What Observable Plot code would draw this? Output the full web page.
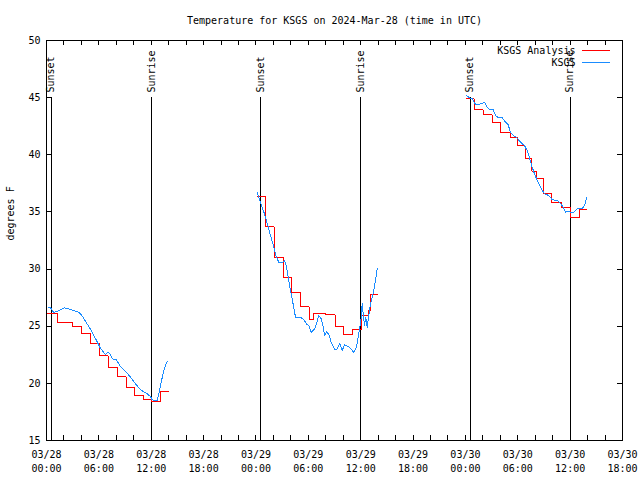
<!DOCTYPE html>
<html><head><meta charset="utf-8">
<script src="https://cdn.jsdelivr.net/npm/d3@7"></script>
<script src="https://cdn.jsdelivr.net/npm/@observablehq/plot@0.6"></script>
<style>html,body{margin:0;padding:0;background:#fff}svg{display:block}</style>
</head><body><div id="chart"></div>
<script>
const title = "Temperature for KSGS on 2024-Mar-28 (time in UTC)";
const yLabel = "degrees F";
const seriesNames = ["KSGS Analysis", "KSGS"];
const seriesColors = ["#ff0000", "#1a8cff"];
const startTime = "2024-03-28T00:00Z";
const endHour = 66;

// hours since 2024-03-28 00:00 UTC
const analysisHours = [0.15,1.23,3.0,4.03,5.04,6.02,7.05,8.08,9.11,10.08,11.06,12.03,13.06,13.98,
  24.21,25.09,26.07,27.1,28.07,29.16,30.08,30.65,31.97,33.06,34.03,35.06,36.04,36.9,37.18,37.9,
  48.13,48.99,50.02,51.05,52.02,53.17,53.97,54.83,55.63,56.2,56.95,57.87,59.01,60.04,61.08,61.88];
const analysisTemps = [26.1,25.35,24.97,24.33,23.48,22.4,21.4,20.6,19.66,18.94,18.56,18.41,19.3,19.3,
  36.35,33.72,31.04,29.23,27.97,26.72,25.56,26.14,26.0,24.97,24.27,24.68,25.94,26.4,27.77,27.77,
  44.89,43.93,43.52,42.8,41.97,41.48,40.8,39.64,38.56,37.95,36.58,35.85,35.41,34.54,35.18,35.18];

const obsHours = [0.15,0.46,0.84,1.41,2.06,2.56,3.13,3.7,4.09,4.66,5.24,5.73,6.11,6.38,6.76,7.02,7.22,7.53,8.02,8.4,9.05,9.63,10.2,10.77,11.54,11.92,12.11,12.49,12.68,12.87,13.14,13.44,13.75,13.94,
  24.14,24.33,24.52,24.72,24.98,25.21,25.47,25.75,26.05,26.32,26.62,27.01,27.27,27.5,27.76,27.96,28.22,28.53,29.03,29.48,29.79,30.06,30.33,30.71,30.94,31.2,31.48,31.71,31.86,32.08,32.35,32.62,33.0,33.31,33.61,33.88,34.15,34.52,34.91,35.21,35.52,35.72,35.9,36.06,36.17,36.44,36.59,36.75,36.93,37.13,37.32,37.5,37.7,37.89,
  48.13,48.39,48.78,49.16,49.54,49.93,50.19,50.5,50.8,51.19,51.45,51.83,52.22,52.6,52.86,53.17,53.48,53.86,54.31,54.77,55.08,55.38,55.65,55.92,56.23,56.53,56.8,57.1,57.56,57.95,58.52,58.9,59.21,59.47,59.73,60.04,60.42,60.81,61.38,61.65,61.88];
const obsTemps = [26.6,26.6,26.2,26.37,26.6,26.5,26.37,26.23,25.9,25.2,24.47,23.75,23.16,22.87,22.5,22.7,22.64,22.15,22.06,21.56,21.06,20.54,19.96,19.43,19.08,18.85,18.56,18.5,18.5,19.08,20.1,21.12,21.85,21.94,
  36.72,36.29,35.85,35.35,34.83,34.2,33.5,32.7,31.9,31.1,30.6,30.55,30.75,30.2,29.0,28.1,27.1,25.8,25.8,25.6,25.2,25.06,24.47,24.77,25.2,25.94,25.65,24.92,24.19,24.5,24.27,23.6,23.0,23.0,23.5,22.87,23.37,23.25,23.0,22.7,23.16,24.04,24.9,25.79,26.96,25.06,25.79,24.9,25.94,26.96,27.54,28.12,29.0,30.02,
  45.18,45.03,44.89,44.4,44.4,44.5,44.6,44.16,43.93,43.93,43.43,43.23,43.23,42.85,42.7,41.97,41.68,41.53,41.1,40.8,40.37,39.64,38.92,38.33,37.75,37.3,36.87,36.58,36.43,36.06,36.0,35.76,35.41,34.97,35.06,34.97,34.97,35.27,35.27,35.56,36.23];

const sunTimes = ["2024-03-28T00:31Z","2024-03-28T12:04Z","2024-03-29T00:32Z","2024-03-29T12:02Z","2024-03-30T00:33Z","2024-03-30T12:01Z"];
const sunLabels = ["Sunset","Sunrise","Sunset","Sunrise","Sunset","Sunrise"];
const xLabelHours = [0,6,12,18,24,30,36,42,48,54,60,66];
const xTickHours = [0,2,4,6,8,10,12,14,16,18,20,22,24,26,28,30,32,34,36,38,40,42,44,46,48,50,52,54,56,58,60,62,64,66];
const yTicks = [15,20,25,30,35,40,45,50];

const base = new Date(startTime).getTime();
const toTime = h => new Date(base + h * 3600e3);

function build(hours, temps) {
  let seg = 0;
  return hours.map((h, i) => {
    if (i > 0 && h - hours[i - 1] > 4) seg++;
    return {time: toTime(h), temp: temps[i], seg};
  });
}
const analysis = build(analysisHours, analysisTemps);
const obs = build(obsHours, obsTemps);
const sun = sunTimes.map((t, i) => ({time: new Date(t), label: sunLabels[i]}));
const xLabelTimes = xLabelHours.map(toTime);
const xTickTimes = xTickHours.map(toTime);

const W = 640, H = 480, mL = 46, mR = 18, mT = 40, mB = 40;
const fw = W - mL - mR, fh = H - mT - mB;
const tick = 5;
const font = "DejaVu Sans Mono";

const plot = Plot.plot({
  width: W, height: H,
  marginLeft: mL, marginRight: mR, marginTop: mT, marginBottom: mB,
  style: {fontFamily: font, fontSize: "10px", background: "#fff", color: "#000", overflow: "visible"},
  x: {type: "utc", domain: [toTime(0), toTime(endHour)]},
  y: {domain: [15, 50]},
  marks: [
    Plot.ruleX(sun, {x: "time", stroke: "#000", strokeWidth: 1, insetTop: 57}),
    Plot.text(sun, {x: "time", text: "label", frameAnchor: "top", dy: 52, rotate: -90, textAnchor: "start", lineAnchor: "middle", fill: "#000"}),
    Plot.line(analysis, {x: "time", y: "temp", z: "seg", stroke: seriesColors[0], strokeWidth: 1, curve: "step-after"}),
    Plot.line(obs, {x: "time", y: "temp", z: "seg", stroke: seriesColors[1], strokeWidth: 1}),
    Plot.ruleX(xTickTimes, {x: d => d, insetTop: fh - tick, stroke: "#000"}),
    Plot.ruleX(xTickTimes, {x: d => d, insetBottom: fh - tick, stroke: "#000"}),
    Plot.ruleY(yTicks, {y: d => d, insetRight: fw - tick, stroke: "#000"}),
    Plot.ruleY(yTicks, {y: d => d, insetLeft: fw - tick, stroke: "#000"}),
    Plot.axisX({ticks: xLabelTimes, tickSize: 0, tickPadding: 8, tickFormat: d3.utcFormat("%m/%d\n%H:%M"), lineHeight: 1.4, label: null, fill: "#000"}),
    Plot.axisY({ticks: yTicks, tickSize: 0, tickPadding: 6, label: null, fill: "#000"}),
    Plot.frame({stroke: "#000"}),
    Plot.text([title], {frameAnchor: "top", dy: -20, lineAnchor: "middle", fill: "#000"}),
    Plot.text([yLabel], {frameAnchor: "left", dx: -36, rotate: -90, lineAnchor: "middle", fill: "#000"}),
    Plot.text([seriesNames[0]], {frameAnchor: "top-right", dx: -47, dy: 10, textAnchor: "end", lineAnchor: "middle", fill: "#000"}),
    Plot.text([seriesNames[1]], {frameAnchor: "top-right", dx: -47, dy: 22, textAnchor: "end", lineAnchor: "middle", fill: "#000"})
  ]
});

// legend line samples
const svg = d3.select(plot);
const xr = plot.scale("x").range;
seriesColors.forEach((c, i) => {
  svg.append("line")
    .attr("x1", xr[1] - 40).attr("x2", xr[1] - 12)
    .attr("y1", mT + 10 + i * 12 + 0.5).attr("y2", mT + 10 + i * 12 + 0.5)
    .attr("stroke", c).attr("stroke-width", 1);
});
svg.selectAll("path, line").attr("shape-rendering", "crispEdges");
document.getElementById("chart").appendChild(plot);
</script>
</body></html>
